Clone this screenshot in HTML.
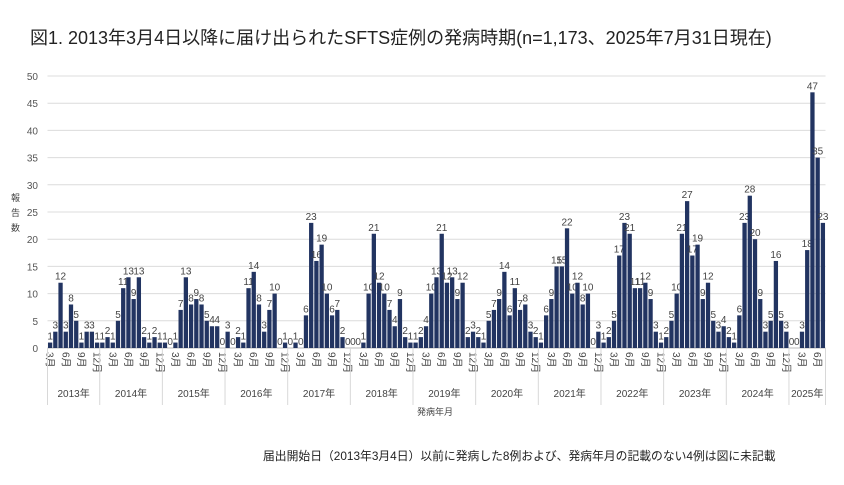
<!DOCTYPE html>
<html><head><meta charset="utf-8">
<style>
body{margin:0;background:#fff;width:844px;height:480px;overflow:hidden;font-family:"Liberation Sans","Noto Sans CJK JP",sans-serif;}
svg text{font-family:"Liberation Sans","Noto Sans CJK JP",sans-serif;}
</style></head>
<body>
<svg id="chart" width="844" height="480" xmlns="http://www.w3.org/2000/svg">
<text x="30" y="44" font-size="18" fill="#222">図1. 2013年3月4日以降に届け出られたSFTS症例の発病時期(n=1,173、2025年7月31日現在)</text>
<g font-size="9" fill="#444">
<text x="11" y="201">報</text><text x="11" y="216">告</text><text x="11" y="231">数</text>
</g>
<text x="435" y="415" font-size="9" fill="#444" text-anchor="middle">発病年月</text>
<text x="263" y="460" font-size="11.8" fill="#222">届出開始日（2013年3月4日）以前に発病した8例および、発病年月の記載のない4例は図に未記載</text>
<g id="grid"></g><g id="bars"></g><g id="xaxis"></g>
</svg>
<script>
const startYear = 2013, startMonth = 3;
const yTicks = [0,5,10,15,20,25,30,35,40,45,50];
const years = ["2013年","2014年","2015年","2016年","2017年","2018年","2019年","2020年","2021年","2022年","2023年","2024年","2025年"];
const counts2013 = [1,3,12,3,8,5,1,3,3,1];
const counts2014 = [1,2,1,5,11,13,9,13,2,1,2,1];
const counts2015 = [1,0,1,7,13,8,9,8,5,4,4,0];
const counts2016 = [3,0,2,1,11,14,8,3,7,10,0,1];
const counts2017 = [0,1,0,6,23,16,19,10,6,7,2,0];
const counts2018 = [0,0,1,10,21,12,10,7,4,9,2,1];
const counts2019 = [1,2,4,10,13,21,12,13,9,12,2,3];
const counts2020 = [2,1,5,7,9,14,6,11,7,8,3,2];
const counts2021 = [1,6,9,15,15,22,10,12,8,10,0,3];
const counts2022 = [1,2,5,17,23,21,11,11,12,9,3,1];
const counts2023 = [2,5,10,21,27,17,19,9,12,5,3,4];
const counts2024 = [2,1,6,23,28,20,9,3,5,16,5,3];
const counts2025 = [0,0,3,18,47,35,23];
const values = [].concat(counts2013,counts2014,counts2015,counts2016,counts2017,counts2018,counts2019,counts2020,counts2021,counts2022,counts2023,counts2024,counts2025);

const NS="http://www.w3.org/2000/svg";
const L=47.5,R=825.5,Y0=348,Y50=76,YMAX=50;
const pitch=(R-L)/values.length;
const x=i=>L+pitch*(i+0.5);
const y=v=>Y0-(Y0-Y50)*v/YMAX;
function mk(tag,attrs,parent,txt){const e=document.createElementNS(NS,tag);for(const k in attrs)e.setAttribute(k,attrs[k]);if(txt!==undefined)e.textContent=txt;parent.appendChild(e);return e;}
const grid=document.getElementById('grid'),bars=document.getElementById('bars'),xa=document.getElementById('xaxis');
yTicks.forEach(t=>{
  const l=mk('line',{x1:L,x2:R,y1:y(t),y2:y(t),stroke:t===0?'#bbb':'#dcdcdc','stroke-width':1},grid);
  
  
  const tx=mk('text',{x:38,y:y(t)+4,'font-size':10,fill:'#555','text-anchor':'end'},grid,t);
  
  
});
values.forEach((v,i)=>{
  const bw=pitch*0.82;
  const r=mk('rect',{x:x(i)-bw/2,y:y(v),width:bw,height:Y0-y(v),fill:'#223461'},bars);
  
  
  const t=mk('text',{x:x(i),y:y(v)-3,'font-size':10,fill:'#444','text-anchor':'middle'},bars,v);
  
  
  const m=(startMonth-1+i)%12+1;
  if(m%3===0){
    const ml=mk('text',{transform:`translate(${x(i)-3.5},352) rotate(90)`,'font-size':10,fill:'#444'},xa,m+'月');
    
    
  }
});
let idx=0;
years.forEach((yl,k)=>{
  const n=k===0?10:(k===years.length-1?values.length-idx:12);
  const x0=L+pitch*idx,x1=L+pitch*(idx+n);
  const sep=mk('line',{x1:x0,x2:x0,y1:Y0,y2:405,stroke:'#d8d8d8','stroke-width':1},xa);
  
  
  const t=mk('text',{x:(x0+x1)/2,y:397,'font-size':10,fill:'#444','text-anchor':'middle'},xa,yl);
  
  
  idx+=n;
});
const end=mk('line',{x1:R,x2:R,y1:Y0,y2:405,stroke:'#d8d8d8','stroke-width':1},xa);


</script>
</body></html>
